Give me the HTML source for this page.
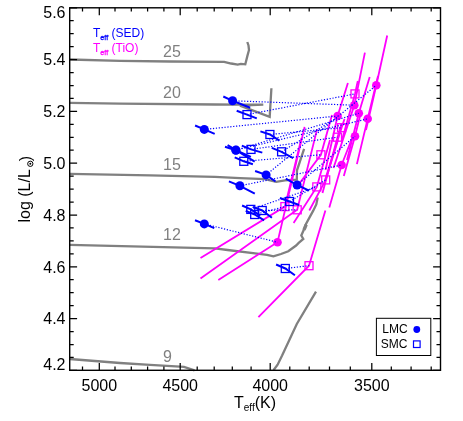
<!DOCTYPE html><html><head><meta charset="utf-8"><title>HR diagram</title>
<style>html,body{margin:0;padding:0;background:#fff;}svg{display:block;}text{font-family:"Liberation Sans",sans-serif;}</style></head><body>
<svg width="463" height="421" viewBox="0 0 463 421">
<rect x="0" y="0" width="463" height="421" fill="#fff"/>
<g style="will-change:transform">
<polyline fill="none" stroke="#808080" stroke-width="2.3" stroke-linejoin="miter" points="69.7,59.5 120.0,60.9 170.0,61.5 224.2,61.9 231.2,63.5 237.7,64.6 240.9,63.8 245.3,64.3 247.4,55.9 249.0,50.0 248.5,45.5 247.3,42.0"/>
<polyline fill="none" stroke="#808080" stroke-width="2.3" stroke-linejoin="miter" points="69.7,102.8 120.0,103.6 215.0,104.5 240.0,104.7 263.3,104.7 240.0,105.6 269.7,116.9 271.4,88.2"/>
<polyline fill="none" stroke="#808080" stroke-width="2.3" stroke-linejoin="miter" points="69.7,173.9 150.0,175.3 215.0,176.8 240.0,178.2 265.0,179.2 276.2,181.8 285.0,180.4 292.0,179.8 296.8,179.6 297.0,170.3 304.1,148.9"/>
<polyline fill="none" stroke="#808080" stroke-width="2.3" stroke-linejoin="miter" points="69.7,244.8 215.0,248.4 227.6,250.0 255.1,253.3 267.0,254.8 273.4,256.4 281.0,254.0 288.3,251.2 296.1,245.5 298.7,242.9 303.3,239.0 301.3,235.5 304.6,228.0 306.0,224.0 313.1,210.9 316.3,204.4 317.7,197.5"/>
<polyline fill="none" stroke="#808080" stroke-width="2.3" stroke-linejoin="miter" points="69.7,359.0 120.0,363.0 150.0,364.8 184.0,366.9 194.5,370.3"/>
<polyline fill="none" stroke="#808080" stroke-width="2.3" stroke-linejoin="miter" points="273.5,370.3 277.6,364.7 282.1,355.6 296.8,324.0 316.0,291.7"/>
<path d="M304.0 229.8L306.2 224.6" stroke="#808080" stroke-width="3.4" fill="none"/>
<text x="163.0" y="56.7" font-size="16" fill="#808080">25</text>
<text x="163.0" y="97.9" font-size="16" fill="#808080">20</text>
<text x="163.0" y="169.9" font-size="16" fill="#808080">15</text>
<text x="163.0" y="239.9" font-size="16" fill="#808080">12</text>
<text x="163.0" y="362.0" font-size="16" fill="#808080">9</text>
<polyline fill="none" stroke="#ff00ff" stroke-width="1.8" points="333.5,168.0 354.3,105.2 364.9,52.6"/>
<polyline fill="none" stroke="#ff00ff" stroke-width="1.8" points="325.5,170.0 337.6,116.0 347.9,82.9"/>
<polyline fill="none" stroke="#ff00ff" stroke-width="1.8" points="347.0,160.0 358.8,113.3 369.7,76.9"/>
<polyline fill="none" stroke="#ff00ff" stroke-width="1.8" points="356.9,164.1 367.7,118.8 378.0,76.0"/>
<polyline fill="none" stroke="#ff00ff" stroke-width="1.8" points="366.0,130.0 376.3,85.3 387.2,35.5"/>
<polyline fill="none" stroke="#ff00ff" stroke-width="1.8" points="329.3,207.6 341.6,165.0 352.5,137.0"/>
<polyline fill="none" stroke="#ff00ff" stroke-width="1.8" points="343.8,176.0 355.0,136.3 361.0,112.0"/>
<polyline fill="none" stroke="#ff00ff" stroke-width="1.8" points="218.3,280.1 277.5,242.3 304.6,126.9"/>
<polyline fill="none" stroke="#ff00ff" stroke-width="1.8" points="342.0,140.0 355.0,93.9 357.8,81.0"/>
<polyline fill="none" stroke="#ff00ff" stroke-width="1.8" points="325.0,180.0 341.6,127.7 344.5,119.0"/>
<polyline fill="none" stroke="#ff00ff" stroke-width="1.8" points="322.5,193.0 337.5,137.2 341.5,124.0"/>
<polyline fill="none" stroke="#ff00ff" stroke-width="1.8" points="297.5,186.0 320.9,154.8 332.0,115.0"/>
<polyline fill="none" stroke="#ff00ff" stroke-width="1.8" points="309.3,210.5 325.7,179.9 338.0,140.0"/>
<polyline fill="none" stroke="#ff00ff" stroke-width="1.8" points="293.6,223.0 316.8,186.9 330.0,140.0"/>
<polyline fill="none" stroke="#ff00ff" stroke-width="1.8" points="200.5,258.1 284.9,206.6 301.5,138.0"/>
<polyline fill="none" stroke="#ff00ff" stroke-width="1.8" points="200.5,278.4 297.2,209.8 317.1,129.1"/>
<polyline fill="none" stroke="#ff00ff" stroke-width="1.8" points="258.4,317.2 309.0,265.7 325.4,210.4"/>
<circle cx="354.3" cy="105.2" r="4.3" fill="#ff00ff"/>
<circle cx="337.6" cy="116.0" r="4.3" fill="#ff00ff"/>
<circle cx="358.8" cy="113.3" r="4.3" fill="#ff00ff"/>
<circle cx="367.7" cy="118.8" r="4.3" fill="#ff00ff"/>
<circle cx="376.3" cy="85.3" r="4.3" fill="#ff00ff"/>
<circle cx="341.6" cy="165.0" r="4.3" fill="#ff00ff"/>
<circle cx="355.0" cy="136.3" r="4.3" fill="#ff00ff"/>
<circle cx="277.5" cy="242.3" r="4.3" fill="#ff00ff"/>
<rect x="351.0" y="89.9" width="8" height="8" fill="none" stroke="#ff00ff" stroke-width="1.3"/>
<rect x="337.6" y="123.7" width="8" height="8" fill="none" stroke="#ff00ff" stroke-width="1.3"/>
<rect x="333.5" y="133.2" width="8" height="8" fill="none" stroke="#ff00ff" stroke-width="1.3"/>
<rect x="316.9" y="150.8" width="8" height="8" fill="none" stroke="#ff00ff" stroke-width="1.3"/>
<rect x="321.7" y="175.9" width="8" height="8" fill="none" stroke="#ff00ff" stroke-width="1.3"/>
<rect x="312.8" y="182.9" width="8" height="8" fill="none" stroke="#ff00ff" stroke-width="1.3"/>
<rect x="280.9" y="202.6" width="8" height="8" fill="none" stroke="#ff00ff" stroke-width="1.3"/>
<rect x="293.2" y="205.8" width="8" height="8" fill="none" stroke="#ff00ff" stroke-width="1.3"/>
<rect x="305.0" y="261.7" width="8" height="8" fill="none" stroke="#ff00ff" stroke-width="1.3"/>
<line x1="232.6" y1="100.8" x2="354.3" y2="105.2" stroke="#0000ff" stroke-width="1.2" stroke-dasharray="1.2 1.7"/>
<line x1="204.3" y1="129.4" x2="337.6" y2="116.0" stroke="#0000ff" stroke-width="1.2" stroke-dasharray="1.2 1.7"/>
<line x1="235.8" y1="150.2" x2="358.8" y2="113.3" stroke="#0000ff" stroke-width="1.2" stroke-dasharray="1.2 1.7"/>
<line x1="236.0" y1="150.1" x2="367.7" y2="118.8" stroke="#0000ff" stroke-width="1.2" stroke-dasharray="1.2 1.7"/>
<line x1="266.1" y1="174.9" x2="376.3" y2="85.3" stroke="#0000ff" stroke-width="1.2" stroke-dasharray="1.2 1.7"/>
<line x1="239.9" y1="185.8" x2="341.6" y2="165.0" stroke="#0000ff" stroke-width="1.2" stroke-dasharray="1.2 1.7"/>
<line x1="297.1" y1="185.0" x2="355.0" y2="136.3" stroke="#0000ff" stroke-width="1.2" stroke-dasharray="1.2 1.7"/>
<line x1="204.3" y1="223.9" x2="277.5" y2="242.3" stroke="#0000ff" stroke-width="1.2" stroke-dasharray="1.2 1.7"/>
<line x1="247.0" y1="114.6" x2="355.0" y2="93.9" stroke="#0000ff" stroke-width="1.2" stroke-dasharray="1.2 1.7"/>
<line x1="269.9" y1="134.5" x2="341.6" y2="127.7" stroke="#0000ff" stroke-width="1.2" stroke-dasharray="1.2 1.7"/>
<line x1="251.0" y1="149.4" x2="337.5" y2="137.2" stroke="#0000ff" stroke-width="1.2" stroke-dasharray="1.2 1.7"/>
<line x1="281.6" y1="151.8" x2="337.6" y2="117.3" stroke="#0000ff" stroke-width="1.2" stroke-dasharray="1.2 1.7"/>
<line x1="243.8" y1="161.3" x2="320.9" y2="154.8" stroke="#0000ff" stroke-width="1.2" stroke-dasharray="1.2 1.7"/>
<line x1="289.5" y1="201.5" x2="325.7" y2="179.9" stroke="#0000ff" stroke-width="1.2" stroke-dasharray="1.2 1.7"/>
<line x1="250.8" y1="209.4" x2="316.8" y2="186.9" stroke="#0000ff" stroke-width="1.2" stroke-dasharray="1.2 1.7"/>
<line x1="254.7" y1="214.5" x2="284.9" y2="206.6" stroke="#0000ff" stroke-width="1.2" stroke-dasharray="1.2 1.7"/>
<line x1="262.2" y1="210.5" x2="297.2" y2="209.8" stroke="#0000ff" stroke-width="1.2" stroke-dasharray="1.2 1.7"/>
<line x1="285.3" y1="268.5" x2="309.0" y2="265.7" stroke="#0000ff" stroke-width="1.2" stroke-dasharray="1.2 1.7"/>
<polyline fill="none" points="223.3,96.5 232.6,100.8 250.2,107.7" stroke="#0000ff" stroke-width="2"/>
<polyline fill="none" points="195.1,125.5 204.3,129.4 214.7,133.8" stroke="#0000ff" stroke-width="2"/>
<polyline fill="none" points="225.0,146.7 235.8,150.2 250.9,156.9" stroke="#0000ff" stroke-width="2"/>
<polyline fill="none" points="227.6,145.2 236.0,150.1 254.7,161.7" stroke="#0000ff" stroke-width="2"/>
<polyline fill="none" points="255.1,171.0 266.1,174.9 275.5,181.5" stroke="#0000ff" stroke-width="2"/>
<polyline fill="none" points="228.9,181.4 239.9,185.8 254.8,193.6" stroke="#0000ff" stroke-width="2"/>
<polyline fill="none" points="285.8,178.6 297.1,185.0 309.1,190.7" stroke="#0000ff" stroke-width="2"/>
<polyline fill="none" points="195.0,220.2 204.3,223.9 214.3,228.2" stroke="#0000ff" stroke-width="2"/>
<polyline fill="none" points="236.7,110.7 247.0,114.6 256.8,118.4" stroke="#0000ff" stroke-width="2"/>
<polyline fill="none" points="260.4,131.4 269.9,134.5 279.4,140.7" stroke="#0000ff" stroke-width="2"/>
<polyline fill="none" points="241.8,145.6 251.0,149.4 262.3,152.6" stroke="#0000ff" stroke-width="2"/>
<polyline fill="none" points="271.8,147.9 281.6,151.8 293.2,158.2" stroke="#0000ff" stroke-width="2"/>
<polyline fill="none" points="234.7,157.4 243.8,161.3 252.9,164.2" stroke="#0000ff" stroke-width="2"/>
<polyline fill="none" points="279.9,198.0 289.5,201.5 299.1,205.0" stroke="#0000ff" stroke-width="2"/>
<polyline fill="none" points="242.1,205.5 250.8,209.4 260.3,215.6" stroke="#0000ff" stroke-width="2"/>
<polyline fill="none" points="245.7,210.9 254.7,214.5 264.1,220.3" stroke="#0000ff" stroke-width="2"/>
<polyline fill="none" points="252.7,206.9 262.2,210.5 271.9,217.8" stroke="#0000ff" stroke-width="2"/>
<polyline fill="none" points="276.1,264.5 285.3,268.5 294.9,275.3" stroke="#0000ff" stroke-width="2"/>
<circle cx="232.6" cy="100.8" r="4.5" fill="#0000ff"/>
<circle cx="204.3" cy="129.4" r="4.5" fill="#0000ff"/>
<circle cx="235.8" cy="150.2" r="4.5" fill="#0000ff"/>
<circle cx="236.0" cy="150.1" r="4.5" fill="#0000ff"/>
<circle cx="266.1" cy="174.9" r="4.5" fill="#0000ff"/>
<circle cx="239.9" cy="185.8" r="4.5" fill="#0000ff"/>
<circle cx="297.1" cy="185.0" r="4.5" fill="#0000ff"/>
<circle cx="204.3" cy="223.9" r="4.5" fill="#0000ff"/>
<rect x="243.0" y="110.6" width="8" height="8" fill="none" stroke="#0000ff" stroke-width="1.3"/>
<rect x="265.9" y="130.5" width="8" height="8" fill="none" stroke="#0000ff" stroke-width="1.3"/>
<rect x="247.0" y="145.4" width="8" height="8" fill="none" stroke="#0000ff" stroke-width="1.3"/>
<rect x="277.6" y="147.8" width="8" height="8" fill="none" stroke="#0000ff" stroke-width="1.3"/>
<rect x="239.8" y="157.3" width="8" height="8" fill="none" stroke="#0000ff" stroke-width="1.3"/>
<rect x="285.5" y="197.5" width="8" height="8" fill="none" stroke="#0000ff" stroke-width="1.3"/>
<rect x="246.8" y="205.4" width="8" height="8" fill="none" stroke="#0000ff" stroke-width="1.3"/>
<rect x="250.7" y="210.5" width="8" height="8" fill="none" stroke="#0000ff" stroke-width="1.3"/>
<rect x="258.2" y="206.5" width="8" height="8" fill="none" stroke="#0000ff" stroke-width="1.3"/>
<rect x="281.3" y="264.5" width="8" height="8" fill="none" stroke="#0000ff" stroke-width="1.3"/>
<rect x="69.7" y="7.8" width="370.8" height="362.5" fill="none" stroke="#000" stroke-width="1.4"/>
<path d="M82.5 370.3v-3.7M82.5 7.8v3.7M99.3 370.3v-7.4M99.3 7.8v7.4M115.0 370.3v-3.7M115.0 7.8v3.7M131.3 370.3v-3.7M131.3 7.8v3.7M147.6 370.3v-3.7M147.6 7.8v3.7M163.9 370.3v-3.7M163.9 7.8v3.7M180.2 370.3v-7.4M180.2 7.8v7.4M197.2 370.3v-3.7M197.2 7.8v3.7M214.2 370.3v-3.7M214.2 7.8v3.7M232.3 370.3v-3.7M232.3 7.8v3.7M251.1 370.3v-3.7M251.1 7.8v3.7M270.2 370.3v-7.4M270.2 7.8v7.4M289.8 370.3v-3.7M289.8 7.8v3.7M309.2 370.3v-3.7M309.2 7.8v3.7M329.5 370.3v-3.7M329.5 7.8v3.7M350.3 370.3v-3.7M350.3 7.8v3.7M371.8 370.3v-7.4M371.8 7.8v7.4M391.3 370.3v-3.7M391.3 7.8v3.7M411.1 370.3v-3.7M411.1 7.8v3.7M431.2 370.3v-3.7M431.2 7.8v3.7M69.7 7.8h7.4M440.5 7.8h-7.4M69.7 20.7h4.0M440.5 20.7h-4.0M69.7 33.7h4.0M440.5 33.7h-4.0M69.7 46.7h4.0M440.5 46.7h-4.0M69.7 59.6h7.4M440.5 59.6h-7.4M69.7 72.5h4.0M440.5 72.5h-4.0M69.7 85.5h4.0M440.5 85.5h-4.0M69.7 98.4h4.0M440.5 98.4h-4.0M69.7 111.4h7.4M440.5 111.4h-7.4M69.7 124.4h4.0M440.5 124.4h-4.0M69.7 137.3h4.0M440.5 137.3h-4.0M69.7 150.2h4.0M440.5 150.2h-4.0M69.7 163.2h7.4M440.5 163.2h-7.4M69.7 176.2h4.0M440.5 176.2h-4.0M69.7 189.1h4.0M440.5 189.1h-4.0M69.7 202.1h4.0M440.5 202.1h-4.0M69.7 215.0h7.4M440.5 215.0h-7.4M69.7 227.9h4.0M440.5 227.9h-4.0M69.7 240.9h4.0M440.5 240.9h-4.0M69.7 253.9h4.0M440.5 253.9h-4.0M69.7 266.8h7.4M440.5 266.8h-7.4M69.7 279.7h4.0M440.5 279.7h-4.0M69.7 292.7h4.0M440.5 292.7h-4.0M69.7 305.7h4.0M440.5 305.7h-4.0M69.7 318.6h7.4M440.5 318.6h-7.4M69.7 331.6h4.0M440.5 331.6h-4.0M69.7 344.5h4.0M440.5 344.5h-4.0M69.7 357.4h4.0M440.5 357.4h-4.0M69.7 370.4h7.4M440.5 370.4h-7.4" stroke="#000" stroke-width="1.25" fill="none"/>
<text x="65.5" y="18.0" font-size="16" text-anchor="end" fill="#000">5.6</text>
<text x="65.5" y="65.3" font-size="16" text-anchor="end" fill="#000">5.4</text>
<text x="65.5" y="117.1" font-size="16" text-anchor="end" fill="#000">5.2</text>
<text x="65.5" y="168.9" font-size="16" text-anchor="end" fill="#000">5.0</text>
<text x="65.5" y="220.7" font-size="16" text-anchor="end" fill="#000">4.8</text>
<text x="65.5" y="272.5" font-size="16" text-anchor="end" fill="#000">4.6</text>
<text x="65.5" y="324.3" font-size="16" text-anchor="end" fill="#000">4.4</text>
<text x="65.5" y="370.3" font-size="16" text-anchor="end" fill="#000">4.2</text>
<text x="99.3" y="391" font-size="16" text-anchor="middle" fill="#000">5000</text>
<text x="180.2" y="391" font-size="16" text-anchor="middle" fill="#000">4500</text>
<text x="270.2" y="391" font-size="16" text-anchor="middle" fill="#000">4000</text>
<text x="371.8" y="391" font-size="16" text-anchor="middle" fill="#000">3500</text>
<text x="234" y="408.3" font-size="16" fill="#000">T<tspan font-size="10" dy="3">eff</tspan><tspan dy="-3">(K)</tspan></text>
<g transform="translate(30,222.5) rotate(-90)"><text x="0" y="0" font-size="16" fill="#000">log (L/L</text><text x="61.3" y="1.2" font-size="16" fill="#000">)</text><circle cx="58.7" cy="0.3" r="2.65" fill="none" stroke="#000" stroke-width="1"/><circle cx="58.7" cy="0.3" r="1.0" fill="#000"/></g>
<text x="93" y="37.3" font-size="12" fill="#0000ff">T<tspan font-size="7.2" dy="2.5" stroke="#0000ff" stroke-width="0.3">eff</tspan><tspan dy="-2.5"> (SED)</tspan></text>
<text x="93" y="52.3" font-size="12" fill="#ff00ff">T<tspan font-size="7.2" dy="2.5" stroke="#ff00ff" stroke-width="0.3">eff</tspan><tspan dy="-2.5"> (TiO)</tspan></text>
<rect x="376.4" y="318.3" width="54.4" height="37.2" fill="#fff" stroke="#000" stroke-width="1"/>
<text x="382.3" y="333.4" font-size="12" fill="#000">LMC</text>
<text x="380.8" y="347.9" font-size="12" fill="#000">SMC</text>
<circle cx="416.8" cy="329.5" r="3.4" fill="#0000ff"/>
<rect x="413.5" y="340.9" width="6.6" height="6.6" fill="none" stroke="#0000ff" stroke-width="1.2"/>
</g>
</svg></body></html>
